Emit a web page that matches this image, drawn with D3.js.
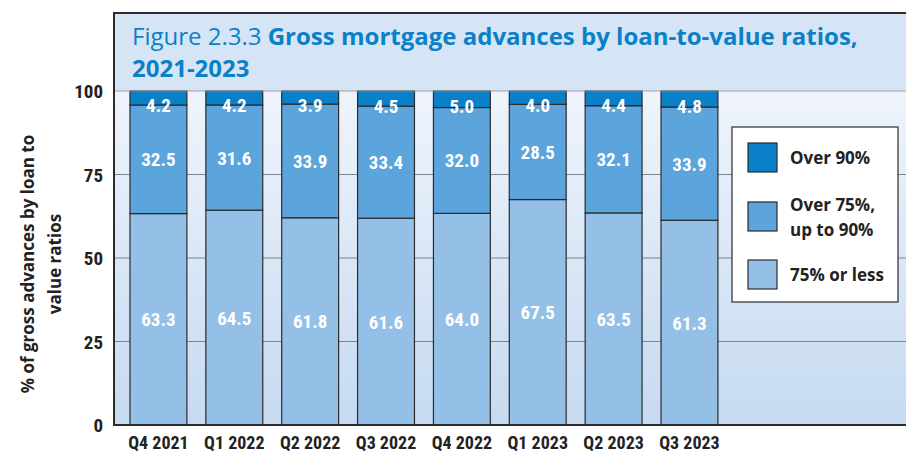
<!DOCTYPE html>
<html>
<head>
<meta charset="utf-8">
<script src="https://cdn.jsdelivr.net/npm/d3@7"></script>
<style>
  body { margin: 0; background: #fff; }
  text { font-family: "Liberation Sans Narrow", "Roboto Condensed", "Open Sans", sans-serif; }
</style>
</head>
<body>
<div id="chart"></div>
<script>
// data
var quarters = ["Q4 2021", "Q1 2022", "Q2 2022", "Q3 2022", "Q4 2022", "Q1 2023", "Q2 2023", "Q3 2023"];
var upTo75 = [63.3, 64.5, 61.8, 61.6, 64.0, 67.5, 63.5, 61.3];
var over75 = [32.5, 31.6, 33.9, 33.4, 32.0, 28.5, 32.1, 33.9];
var over90 = [4.2, 4.2, 3.9, 4.5, 5.0, 4.0, 4.4, 4.8];
var seriesNames = ["Over 90%", "Over 75%, up to 90%", "75% or less"];
var yTicks = [0, 25, 50, 75, 100];

var W = 906, H = 453;
var plot = {left: 114, top: 91, right: 912, bottom: 425};

var svg = d3.select("#chart")
  .append("svg")
    .attr("width", W)
    .attr("height", H);

var defs = svg.append("defs");
var grad = defs.append("linearGradient")
    .attr("id", "bg").attr("x1", 0).attr("y1", 0).attr("x2", 0).attr("y2", 1);
grad.append("stop").attr("offset", "0%").attr("stop-color", "#eff4fc");
grad.append("stop").attr("offset", "100%").attr("stop-color", "#c6daf1");

// title panel
svg.append("rect")
    .attr("x", plot.left).attr("y", 13)
    .attr("width", plot.right - plot.left).attr("height", plot.top - 13)
    .attr("fill", "#d6e5f5");

// plot background
svg.append("rect")
    .attr("x", plot.left).attr("y", plot.top)
    .attr("width", plot.right - plot.left).attr("height", plot.bottom - plot.top)
    .attr("fill", "url(#bg)");

var x = d3.scaleBand()
    .domain(quarters)
    .range([120.5, 727.4])
    .paddingInner(0.25)
    .paddingOuter(0.125);

var y = d3.scaleLinear()
    .domain([0, 100])
    .range([plot.bottom, plot.top]);

// gridlines
svg.append("g")
  .selectAll("line")
  .data(yTicks.filter(function(d) { return d > 0 && d < 100; }))
  .enter()
  .append("line")
    .attr("x1", plot.left).attr("x2", plot.right)
    .attr("y1", function(d) { return y(d); })
    .attr("y2", function(d) { return y(d); })
    .attr("stroke", "#7d8590")
    .attr("stroke-width", 1);

// stacked data, bars scaled so each one fills 100
var rows = quarters.map(function(q, i) {
  return {q: q, a: upTo75[i], b: over75[i], c: over90[i]};
});
var stack = d3.stack()
    .keys(["a", "b", "c"])
    .offset(d3.stackOffsetExpand)(rows);
var colors = {a: "#94bfe6", b: "#5ba4dc", c: "#0a80c8"};

var layers = svg.append("g")
  .selectAll("g")
  .data(stack)
  .enter()
  .append("g")
    .attr("fill", function(d) { return colors[d.key]; });

layers.selectAll("rect")
  .data(function(d) { return d; })
  .enter()
  .append("rect")
    .attr("x", function(d) { return x(d.data.q); })
    .attr("y", function(d) { return y(d[1] * 100); })
    .attr("width", x.bandwidth())
    .attr("height", function(d) { return y(d[0] * 100) - y(d[1] * 100); })
    .attr("stroke", "#2b2b2b")
    .attr("stroke-width", 1.2);

layers.selectAll("text")
  .data(function(d) { return d.map(function(p) { p.key = d.key; return p; }); })
  .enter()
  .append("text")
    .attr("x", function(d) { return x(d.data.q) + x.bandwidth() / 2; })
    .attr("y", function(d) {
      return (y(d[0] * 100) + y(d[1] * 100)) / 2 + (d.key === "c" ? 14 : 7);
    })
    .attr("text-anchor", "middle")
    .attr("font-size", "19px")
    .attr("font-weight", "bold")
    .attr("fill", "#fff")
    .text(function(d) { return d.data[d.key].toFixed(1); });

// line between title panel and plot
svg.append("line")
    .attr("x1", plot.left).attr("x2", plot.right)
    .attr("y1", plot.top).attr("y2", plot.top)
    .attr("stroke", "#9aa3ad").attr("stroke-width", 1);

// outer frame
svg.append("rect")
    .attr("x", plot.left).attr("y", 13)
    .attr("width", plot.right - plot.left).attr("height", plot.bottom - 13)
    .attr("fill", "none")
    .attr("stroke", "#2b2b2b")
    .attr("stroke-width", 2);

// title
var title = svg.append("text")
    .attr("x", 132).attr("y", 45)
    .attr("font-size", "24px")
    .attr("fill", "#0a80c8")
    .style("font-family", "'Open Sans', sans-serif");
title.append("tspan").text("Figure 2.3.3 ");
title.append("tspan").attr("font-weight", "bold").text("Gross mortgage advances by loan-to-value ratios,");
svg.append("text")
    .attr("x", 132).attr("y", 77)
    .attr("font-size", "24px")
    .attr("font-weight", "bold")
    .attr("fill", "#0a80c8")
    .style("font-family", "'Open Sans', sans-serif")
    .text("2021-2023");

// y tick labels
svg.append("g")
  .selectAll("text")
  .data(yTicks)
  .enter()
  .append("text")
    .attr("x", 103)
    .attr("y", function(d) { return y(d) + 7; })
    .attr("text-anchor", "end")
    .attr("font-size", "19px")
    .attr("font-weight", "bold")
    .attr("fill", "#222")
    .text(function(d) { return d; });

// x labels
svg.append("g")
  .selectAll("text")
  .data(quarters)
  .enter()
  .append("text")
    .attr("x", function(d) { return x(d) + x.bandwidth() / 2; })
    .attr("y", 449)
    .attr("text-anchor", "middle")
    .attr("font-size", "18px")
    .attr("font-weight", "bold")
    .attr("fill", "#222")
    .text(function(d) { return d; });

// y axis title
var yt = svg.append("text")
    .attr("transform", "translate(34,264) rotate(-90)")
    .attr("text-anchor", "middle")
    .attr("font-size", "17px")
    .attr("font-weight", "bold")
    .attr("fill", "#222")
    .style("font-family", "'Open Sans', sans-serif");
yt.append("tspan").attr("x", 0).attr("dy", 0).text("% of gross advances by loan to");
yt.append("tspan").attr("x", 0).attr("dy", 27).text("value ratios");

// legend
var lg = svg.append("g").attr("transform", "translate(732,127)");
lg.append("rect")
    .attr("width", 166).attr("height", 175)
    .attr("fill", "#fff")
    .attr("stroke", "#2b2b2b").attr("stroke-width", 1.2);
var legendColors = [colors.c, colors.b, colors.a];
var legendY = [16, 75, 133];
var item = lg.selectAll("g.item")
  .data(seriesNames)
  .enter()
  .append("g")
    .attr("class", "item")
    .attr("transform", function(d, i) { return "translate(16," + legendY[i] + ")"; });
item.append("rect")
    .attr("width", 29).attr("height", 29)
    .attr("fill", function(d, i) { return legendColors[i]; })
    .attr("stroke", "#2b2b2b").attr("stroke-width", 1.2);
item.each(function(d) {
  var t = d3.select(this).append("text")
      .attr("x", 42)
      .attr("font-size", "17px")
      .attr("font-weight", "bold")
      .attr("fill", "#222")
      .style("font-family", "'Open Sans', sans-serif");
  var cut = d.indexOf(",");
  if (cut < 0) {
    t.attr("y", 21).text(d);
  } else {
    t.append("tspan").attr("x", 42).attr("y", 9).text(d.slice(0, cut + 1));
    t.append("tspan").attr("x", 42).attr("y", 34).text(d.slice(cut + 2));
  }
});
</script>
</body>
</html>
